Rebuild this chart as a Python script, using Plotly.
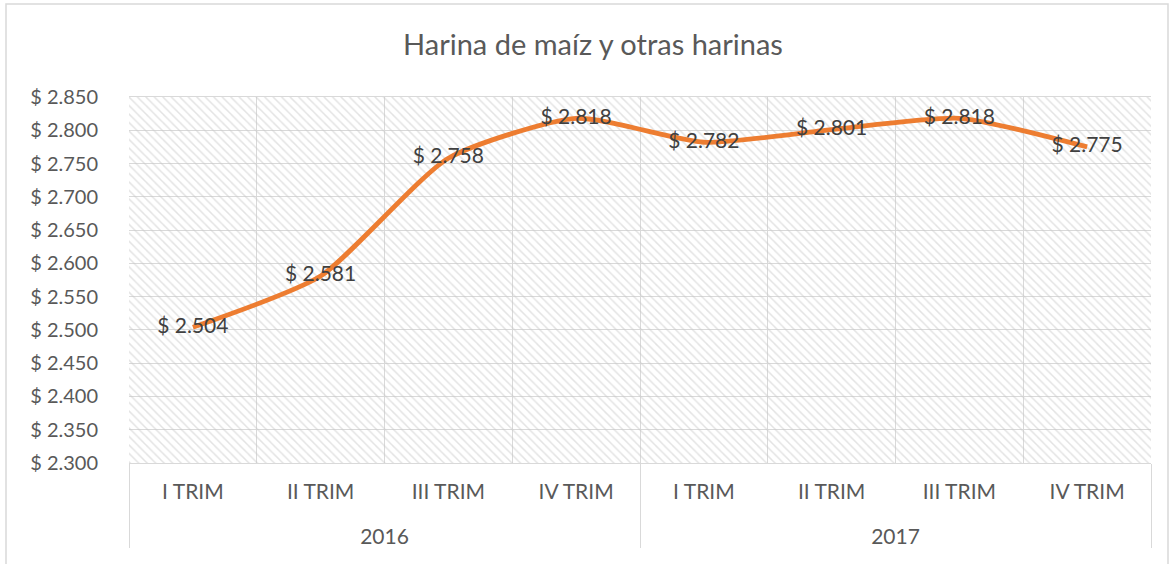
import plotly.graph_objects as go

title = "Harina de maíz y otras harinas"
years = ["2016", "2016", "2016", "2016", "2017", "2017", "2017", "2017"]
quarters = ["I TRIM", "II TRIM", "III TRIM", "IV TRIM", "I TRIM", "II TRIM", "III TRIM", "IV TRIM"]
values = [2504, 2581, 2758, 2818, 2782, 2801, 2818, 2775]
y_min, y_max, y_step = 2300, 2850, 50

labels = ["$ " + f"{v:,}".replace(",", ".") for v in values]
FONT = "Lato"
GRAY = "#595959"
year_axis = ["<br>" + y for y in years]

W, H = 1169, 564
PL, PT, PW, PH = 129, 97, 1022, 366

fig = go.Figure()

# hatched plot-area background
fig.add_trace(go.Bar(
    x=[year_axis, quarters],
    y=[y_max - y_min] * len(values),
    base=y_min,
    width=1,
    marker=dict(
        color="rgba(0,0,0,0)",
        line=dict(width=0),
        pattern=dict(shape="\\", fgcolor="#c8c8c8", bgcolor="rgba(0,0,0,0)", size=6, solidity=0.25),
    ),
    hoverinfo="skip",
    showlegend=False,
))

fig.add_trace(go.Scatter(
    x=[year_axis, quarters],
    y=values,
    mode="lines+text",
    line=dict(color="#ED7D31", width=4.8, shape="spline", smoothing=0.6),
    text=labels,
    textposition="middle center",
    textfont=dict(family=FONT, size=21, color="#404040"),
    showlegend=False,
))

fig.update_layout(
    width=W, height=H,
    margin=dict(l=PL, r=W - PL - PW, t=PT, b=H - PT - PH),
    paper_bgcolor="white",
    plot_bgcolor="white",
    bargap=0,
    separators=",.",
    title=dict(text=title, x=593 / W, xanchor="center", y=1 - 45 / H, yanchor="middle",
               font=dict(family=FONT, size=29, color=GRAY)),
    xaxis=dict(
        type="multicategory",
        automargin=False,
        tickson="boundaries",
        showgrid=True, gridcolor="#d9d9d9", gridwidth=1,
        showline=True, linecolor="#d9d9d9", linewidth=1, mirror=True,
        ticks="", ticklabelstandoff=10,
        showdividers=True, dividercolor="#d9d9d9", dividerwidth=1,
        tickfont=dict(family=FONT, size=21, color=GRAY),
        range=[-0.5, len(values) - 0.5],
    ),
    yaxis=dict(
        automargin=False,
        range=[y_min, y_max],
        dtick=y_step, tick0=y_min,
        tickprefix="$ ", tickformat=",.0f",
        showgrid=True, gridcolor="#d9d9d9", gridwidth=1,
        zeroline=False,
        ticks="outside", ticklen=26, tickcolor="rgba(0,0,0,0)",
        tickfont=dict(family=FONT, size=20, color=GRAY),
    ),
    shapes=[
        dict(type="rect", xref="paper", yref="paper",
             x0=(6 - PL) / PW, x1=(1168 - PL) / PW,
             y0=(PT + PH - 570) / PH, y1=(PT + PH - 4) / PH,
             line=dict(color="#d9d9d9", width=1.5), fillcolor="rgba(0,0,0,0)", layer="below"),
    ],
)

fig.write_html("out.html", config={"displayModeBar": False},
               post_script="document.body.style.margin='0px';")
